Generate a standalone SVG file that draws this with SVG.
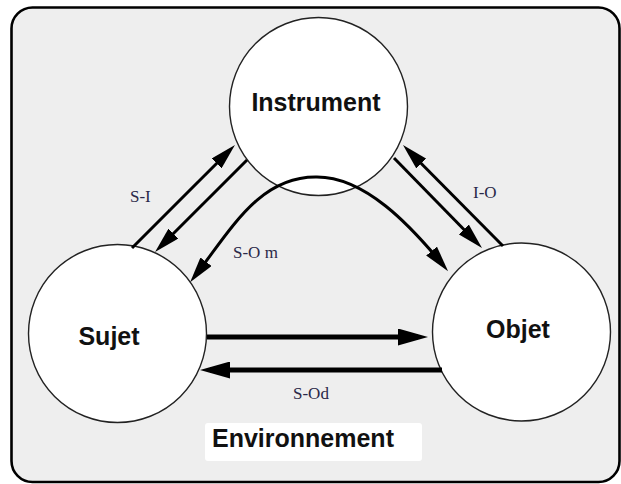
<svg xmlns="http://www.w3.org/2000/svg" width="621" height="484" viewBox="0 0 621 484">
<style>
.frame{fill:#eeeeee;stroke:#000;stroke-width:2.6}
.node{fill:#fff;stroke:#222;stroke-width:1.4}
.name{font-family:"Liberation Sans",Arial,sans-serif;font-weight:bold;font-size:25px;fill:#111}
.lbl{font-family:"Liberation Serif","Times New Roman",serif;font-size:17px;fill:#2a2848}
.thin{fill:none;stroke:#000;stroke-width:3}
.thick{fill:none;stroke:#000;stroke-width:5}
</style>
<defs>
<marker id="ah" markerUnits="userSpaceOnUse" viewBox="0 -7 26 14" markerWidth="26" markerHeight="14" refX="18" refY="0" orient="auto-start-reverse">
<path d="M0,-7 L26,0 L0,7 Z" fill="#000"/>
</marker>
<marker id="ahb" markerUnits="userSpaceOnUse" viewBox="0 -8.5 30 17" markerWidth="30" markerHeight="17" refX="20" refY="0" orient="auto">
<path d="M0,-8.5 L30,0 L0,8.5 Z" fill="#000"/>
</marker>
</defs>
<g id="environnement">
<rect class="frame" x="11.5" y="7.5" width="608" height="474.5" rx="21"/>
<rect x="205" y="423" width="217" height="38" rx="3" fill="#fff"/>
<text class="name" x="212" y="447">Environnement</text>
</g>
<g id="instrument">
<circle class="node" cx="318.5" cy="106.5" r="89"/>
<text class="name" x="316" y="111" text-anchor="middle">Instrument</text>
</g>
<g id="sujet">
<circle class="node" cx="117.5" cy="333.5" r="89"/>
<text class="name" x="109" y="345" text-anchor="middle">Sujet</text>
</g>
<g id="objet">
<circle class="node" cx="521.5" cy="332" r="89"/>
<text class="name" x="518" y="338" text-anchor="middle">Objet</text>
</g>
<g id="connectors">
<path class="thick" d="M207,337 L418,337" marker-end="url(#ahb)"/>
<path class="thick" d="M442,370 L210,370" marker-end="url(#ahb)"/>
<path class="thin" d="M132,248 L229.3,150.7" marker-end="url(#ah)"/>
<path class="thin" d="M247,160 L160.7,246.3" marker-end="url(#ah)"/>
<path class="thin" d="M394,158 L476.4,242.3" marker-end="url(#ah)"/>
<path class="thin" d="M503,246 L408.6,150.7" marker-end="url(#ah)"/>
<path class="thin" d="M195,276 C232,228 260,176 317,177 C365,177 410,225 443,265" marker-start="url(#ah)" marker-end="url(#ah)"/>
<text class="lbl" x="130" y="202">S-I</text>
<text class="lbl" x="473" y="198">I-O</text>
<text class="lbl" x="233" y="258">S-O m</text>
<text class="lbl" x="293" y="399">S-Od</text>
</g>
</svg>
